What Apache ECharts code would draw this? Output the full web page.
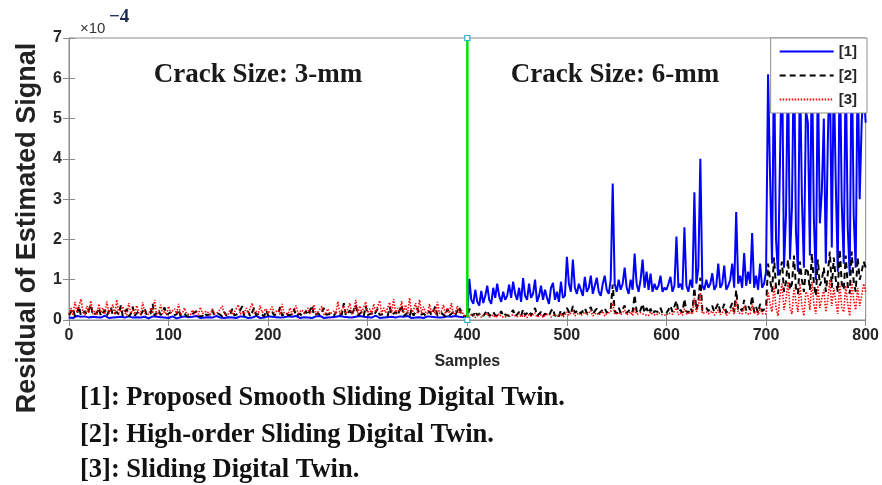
<!DOCTYPE html>
<html>
<head>
<meta charset="utf-8">
<script src="https://cdn.jsdelivr.net/npm/echarts@6/dist/echarts.min.js"></script>
<style>
  html, body { margin: 0; padding: 0; background: #ffffff; }
  #chart { width: 882px; height: 485px; }
</style>
</head>
<body>
<div id="chart"></div>
<script>
// Residuals in units of 1e-4, one value every 2 samples (0, 2, ..., 800).
// Samples 0-398: crack size 3 mm; samples 400-800: crack size 6 mm.
var sampleStep = 2;

var smoothSlidingDT = [
  .06,.08,.05,.07,.1,.06,.08,.05,.09,.07,.06,.1,.08,.05,.07,.09,.06,.08,.11,.07,
  .05,.08,.06,.09,.07,.05,.08,.1,.06,.07,.09,.05,.06,.08,.07,.1,.06,.05,.08,.07,
  .04,.07,.09,.06,.08,.05,.07,.1,.06,.08,.05,.07,.09,.06,.04,.08,.07,.05,.09,.06,
  .07,.05,.08,.06,.1,.07,.05,.08,.06,.09,.07,.05,.06,.08,.1,.07,.06,.09,.05,.08,
  .07,.1,.06,.08,.05,.07,.09,.06,.08,.07,.05,.09,.06,.08,.1,.07,.05,.08,.06,.07,
  .09,.06,.08,.05,.07,.1,.06,.08,.07,.05,.09,.06,.08,.07,.1,.06,.05,.08,.07,.09,
  .06,.08,.05,.07,.09,.06,.1,.07,.05,.08,.06,.09,.07,.05,.08,.06,.1,.07,.08,.05,
  .07,.09,.06,.04,.08,.07,.1,.06,.08,.05,.07,.09,.06,.08,.11,.07,.05,.08,.06,.09,
  .07,.05,.08,.1,.06,.07,.09,.05,.08,.06,.1,.07,.05,.08,.06,.09,.07,.08,.05,.07,
  .09,.06,.08,.05,.07,.1,.06,.08,.07,.05,.09,.06,.08,.07,.1,.06,.08,.05,.07,.09,
  .1,1.02,.5,.4,.75,.45,.36,.72,.42,.6,.85,.5,.4,.8,.55,.9,.6,.45,.7,.5,
  .6,.88,.55,.95,.65,.5,.8,.45,1.04,.6,.5,.9,.55,.65,1.0,.45,.6,.85,.5,.75,
  .55,.4,.8,.92,.5,.7,.45,.95,.55,.6,
  1.57,.9,.7,1.5,.8,.65,.9,.75,.6,1.07,.7,.8,1.1,.65,.85,1.05,.7,.6,.9,1.1,
  .75,.65,1.0,3.39,.9,.7,1.0,.75,.9,1.3,.8,.65,1.0,.75,1.65,.9,.7,1.0,1.5,.8,
  1.2,.75,1.15,.7,.9,.75,.85,1.1,.7,.8,
  .75,.9,1.07,.7,.85,2.07,.8,.9,.75,2.3,.85,.7,1.0,.8,3.17,.9,1.3,4.0,.85,.75,
  1.0,.8,.9,1.16,.75,.85,1.4,.8,.9,1.35,.75,.85,1.0,1.4,.8,2.68,.9,1.1,.8,1.66,
  .85,1.2,.9,2.16,.8,1.1,.75,1.4,.8,.9,
  1.2,6.1,3.6,1.4,6.6,2.0,1.1,4.0,6.8,1.3,2.6,6.5,1.5,2.8,6.9,2.2,1.2,6.4,3.0,1.3,
  5.2,4.9,1.6,6.7,2.5,1.0,6.3,2.4,3.2,5.0,1.4,4.4,6.6,1.8,6.2,3.4,1.2,6.8,2.9,1.4,
  6.5,2.3,1.1,6.9,2.6,1.3,6.4,3.0,4.9,5.8,4.9
];

var highOrderSlidingDT = [
  .12,.1,.28,.09,.14,.35,.11,.08,.22,.13,.1,.38,.12,.09,.18,.3,.1,.13,.25,.11,
  .09,.32,.12,.1,.2,.14,.36,.1,.12,.27,.09,.15,.33,.11,.1,.22,.13,.09,.3,.12,
  .1,.16,.4,.11,.09,.24,.12,.1,.31,.13,.09,.19,.11,.1,.14,.26,.1,.12,.17,.09,
  .12,.1,.15,.11,.22,.09,.13,.1,.18,.12,.09,.14,.25,.11,.1,.16,.12,.09,.2,.11,
  .1,.13,.28,.11,.09,.16,.12,.34,.1,.13,.21,.09,.11,.3,.12,.1,.17,.13,.09,.24,
  .11,.1,.2,.12,.09,.15,.32,.11,.1,.18,.12,.09,.14,.27,.1,.12,.16,.09,.11,.22,
  .12,.1,.36,.11,.09,.17,.12,.1,.3,.13,.09,.15,.11,.1,.2,.12,.09,.14,.42,.11,
  .1,.24,.12,.09,.38,.11,.13,.2,.1,.35,.12,.09,.17,.11,.1,.28,.12,.09,.15,.11,
  .1,.32,.12,.09,.2,.11,.13,.37,.1,.12,.18,.09,.26,.11,.1,.3,.12,.09,.16,.11,
  .1,.22,.12,.09,.34,.11,.1,.17,.13,.09,.28,.11,.1,.2,.12,.09,.33,.11,.13,.1,
  .05,.28,.15,.1,.22,.12,.08,.18,.1,.14,.24,.1,.08,.2,.12,.16,.1,.22,.09,.14,
  .18,.1,.12,.25,.09,.14,.2,.1,.26,.12,.09,.22,.11,.15,.3,.1,.12,.2,.09,.16,
  .12,.1,.22,.28,.1,.15,.09,.24,.12,.14,
  .3,.2,.15,.35,.18,.14,.25,.16,.12,.3,.17,.2,.32,.15,.22,.28,.16,.13,.25,.3,
  .18,.15,.26,.88,.22,.16,.3,.18,.2,.36,.17,.14,.28,.2,.62,.22,.16,.25,.4,.18,
  .3,.17,.28,.15,.22,.18,.2,.3,.16,.2,
  .18,.25,.35,.2,.22,.48,.2,.25,.18,.52,.22,.17,.3,.2,.8,.25,.45,1.05,.24,.2,
  .3,.22,.25,.35,.2,.24,.42,.2,.25,.4,.18,.22,.3,.42,.2,.74,.25,.3,.22,.5,
  .24,.35,.25,.6,.2,.32,.18,.4,.22,.25,
  .3,1.4,1.0,.7,1.55,.8,.65,1.2,1.45,.7,.95,1.5,.75,.9,1.6,.8,.65,1.45,1.0,.7,
  1.3,1.2,.75,1.65,.9,.6,1.5,.85,1.0,1.3,.7,1.15,1.7,.8,1.55,1.0,.7,1.75,.9,.75,
  1.6,.85,.65,1.7,.95,.7,1.55,1.0,1.2,1.45,1.3
];

var slidingDT = [
  .15,.3,.12,.45,.18,.14,.52,.2,.13,.35,.17,.48,.15,.22,.12,.4,.18,.3,.14,.46,
  .16,.2,.38,.13,.5,.17,.15,.33,.19,.12,.42,.16,.25,.14,.36,.18,.13,.44,.17,.2,
  .14,.3,.16,.5,.12,.18,.38,.15,.22,.13,.34,.17,.14,.28,.16,.4,.13,.18,.3,.15,
  .17,.13,.25,.15,.2,.14,.32,.16,.12,.22,.18,.14,.28,.15,.13,.2,.16,.35,.14,.18,
  .15,.26,.13,.19,.16,.38,.14,.2,.15,.3,.17,.13,.42,.16,.22,.14,.36,.18,.15,.28,
  .16,.14,.33,.18,.15,.24,.13,.4,.17,.2,.15,.3,.14,.18,.36,.16,.13,.25,.17,.14,
  .3,.15,.18,.38,.14,.2,.16,.34,.13,.18,.28,.15,.17,.22,.14,.46,.16,.2,.35,.15,
  .18,.42,.14,.22,.5,.16,.35,.18,.15,.45,.17,.28,.14,.4,.2,.16,.48,.15,.3,.18,
  .14,.44,.17,.52,.15,.3,.2,.47,.16,.38,.14,.55,.18,.25,.42,.15,.5,.17,.33,.2,
  .15,.4,.18,.28,.14,.45,.16,.22,.38,.15,.3,.17,.42,.14,.2,.35,.16,.25,.14,.18,
  .05,.12,.08,.14,.06,.1,.15,.07,.12,.09,.16,.07,.11,.13,.06,.1,.15,.08,.12,.07,
  .14,.09,.06,.13,.1,.08,.16,.07,.12,.1,.06,.14,.09,.11,.18,.07,.1,.13,.06,.12,
  .09,.15,.07,.11,.14,.08,.1,.16,.07,.12,
  .2,.12,.16,.22,.1,.14,.18,.11,.15,.2,.12,.16,.24,.1,.14,.18,.12,.15,.22,.1,
  .16,.13,.2,.45,.14,.11,.18,.13,.16,.25,.12,.15,.2,.11,.3,.14,.12,.18,.22,.13,
  .17,.11,.2,.14,.16,.12,.18,.22,.13,.15,
  .12,.18,.22,.14,.16,.3,.13,.18,.12,.28,.15,.11,.2,.14,.55,.2,.35,.68,.16,.13,
  .2,.15,.18,.22,.12,.16,.25,.13,.18,.28,.11,.15,.2,.3,.14,.5,.18,.22,.15,.35,
  .16,.2,.14,.4,.15,.22,.12,.3,.16,.2,
  .15,.7,.4,.2,.85,.3,.1,.6,.9,.25,.5,.95,.3,.15,.8,.45,.2,.9,.35,.1,
  .7,.6,.25,.95,.4,.15,.85,.3,.55,.75,.2,.5,1.0,.35,.8,.45,.15,.9,.3,.2,
  .85,.4,.1,.95,.5,.25,.8,.35,.6,.9,.7
];

var crackBoundary = 400;          // sample where the crack grows from 3 mm to 6 mm
var yRange = [0, 7];
var xTicks = [0, 100, 200, 300, 400, 500, 600, 700, 800];
var legendNames = ['[1]', '[2]', '[3]'];
var captionLines = [
  '[1]: Proposed Smooth Sliding Digital Twin.',
  '[2]: High-order Sliding Digital Twin.',
  '[3]: Sliding Digital Twin.'
];

function toPairs(values) {
  return values.map(function (v, i) { return [i * sampleStep, v]; });
}

var axisGray = '#8c8c8c';
var labelFont = { color: '#262626', fontFamily: 'Liberation Sans, Arial, sans-serif', fontWeight: 'bold', fontSize: 16 };
var serifBold = 'Liberation Serif, "Times New Roman", serif';

var chart = echarts.init(document.getElementById('chart'), null, { renderer: 'canvas' });

var option = {
  animation: false,
  backgroundColor: '#ffffff',
  grid: { left: 69, right: 15, top: 38, bottom: 165, show: true, borderColor: axisGray, borderWidth: 1, backgroundColor: '#ffffff' },
  legend: {
    data: legendNames,
    orient: 'vertical',
    right: 15,
    top: 38,
    itemWidth: 54,
    itemHeight: 12,
    itemGap: 9,
    padding: [6, 10, 6, 8],
    backgroundColor: '#ffffff',
    borderColor: axisGray,
    borderWidth: 1,
    itemStyle: { opacity: 0 },
    textStyle: { color: '#262626', fontFamily: 'Liberation Sans, Arial, sans-serif', fontWeight: 'bold', fontSize: 15 },
    z: 10
  },
  xAxis: [{
    type: 'value',
    min: xTicks[0],
    max: xTicks[xTicks.length - 1],
    interval: 100,
    name: 'Samples',
    nameLocation: 'middle',
    nameGap: 34,
    nameTextStyle: { color: '#262626', fontFamily: 'Liberation Sans, Arial, sans-serif', fontWeight: 'bold', fontSize: 16 },
    axisLine: { show: true, lineStyle: { color: axisGray } },
    axisTick: { show: true, inside: true, length: 6, lineStyle: { color: axisGray } },
    axisLabel: Object.assign({ margin: 8 }, labelFont),
    splitLine: { show: false }
  }, {
    type: 'value',
    position: 'top',
    min: xTicks[0],
    max: xTicks[xTicks.length - 1],
    interval: 100,
    axisLine: { show: true, lineStyle: { color: axisGray } },
    axisTick: { show: true, inside: true, length: 6, lineStyle: { color: axisGray } },
    axisLabel: { show: false },
    splitLine: { show: false }
  }],
  yAxis: [{
    type: 'value',
    min: yRange[0],
    max: yRange[1],
    interval: 1,
    axisLine: { show: true, lineStyle: { color: axisGray } },
    axisTick: { show: true, inside: true, length: 6, lineStyle: { color: axisGray } },
    axisLabel: Object.assign({ margin: 7 }, labelFont),
    splitLine: { show: false }
  }, {
    type: 'value',
    position: 'right',
    min: yRange[0],
    max: yRange[1],
    interval: 1,
    axisLine: { show: true, lineStyle: { color: axisGray } },
    axisTick: { show: true, inside: true, length: 6, lineStyle: { color: axisGray } },
    axisLabel: { show: false },
    splitLine: { show: false }
  }],
  series: [{
    name: legendNames[0],
    type: 'line',
    data: toPairs(smoothSlidingDT),
    symbol: 'none',
    lineStyle: { color: '#0000ff', width: 2 },
    itemStyle: { color: '#0000ff' },
    z: 2
  }, {
    name: legendNames[1],
    type: 'line',
    data: toPairs(highOrderSlidingDT),
    symbol: 'none',
    lineStyle: { color: '#000000', width: 2, type: [6, 4] },
    itemStyle: { color: '#000000' },
    z: 3
  }, {
    name: legendNames[2],
    type: 'line',
    data: toPairs(slidingDT),
    symbol: 'none',
    lineStyle: { color: '#ff0000', width: 1.6, type: [1.5, 1.5] },
    itemStyle: { color: '#ff0000' },
    z: 4
  }, {
    name: 'boundary',
    type: 'line',
    data: [[crackBoundary, yRange[0]], [crackBoundary, yRange[1]]],
    symbol: 'rect',
    symbolSize: 5,
    lineStyle: { color: '#00e000', width: 2.5 },
    itemStyle: { color: '#ffffff', borderColor: '#2ab0c8', borderWidth: 1.2 },
    z: 5
  }],
  graphic: [{
    type: 'text',
    x: 28, y: 228,
    rotation: Math.PI / 2,
    style: {
      text: 'Residual of Estimated Signal',
      fill: '#222222',
      font: 'bold 27px "Liberation Sans", Arial, sans-serif',
      align: 'center',
      verticalAlign: 'middle'
    }
  }, {
    type: 'text',
    x: 80, y: 21,
    style: { text: '\u00d710', fill: '#333333', font: '15px "Liberation Sans", Arial, sans-serif' }
  }, {
    type: 'text',
    x: 109, y: 8,
    style: { text: '\u22124', fill: '#1b2a52', font: 'bold 19px ' + serifBold }
  }, {
    type: 'text',
    x: 258, y: 75,
    style: { text: 'Crack Size: 3-mm', fill: '#1a1a1a', font: 'bold 27px ' + serifBold, align: 'center', verticalAlign: 'middle' }
  }, {
    type: 'text',
    x: 615, y: 75,
    style: { text: 'Crack Size: 6-mm', fill: '#1a1a1a', font: 'bold 27px ' + serifBold, align: 'center', verticalAlign: 'middle' }
  }, {
    type: 'text',
    x: 80, y: 398,
    style: { text: captionLines[0], fill: '#111111', font: 'bold 26.5px ' + serifBold, verticalAlign: 'middle' }
  }, {
    type: 'text',
    x: 80, y: 435,
    style: { text: captionLines[1], fill: '#111111', font: 'bold 26.5px ' + serifBold, verticalAlign: 'middle' }
  }, {
    type: 'text',
    x: 80, y: 470,
    style: { text: captionLines[2], fill: '#111111', font: 'bold 26.5px ' + serifBold, verticalAlign: 'middle' }
  }]
};

chart.setOption(option);
</script>
</body>
</html>
